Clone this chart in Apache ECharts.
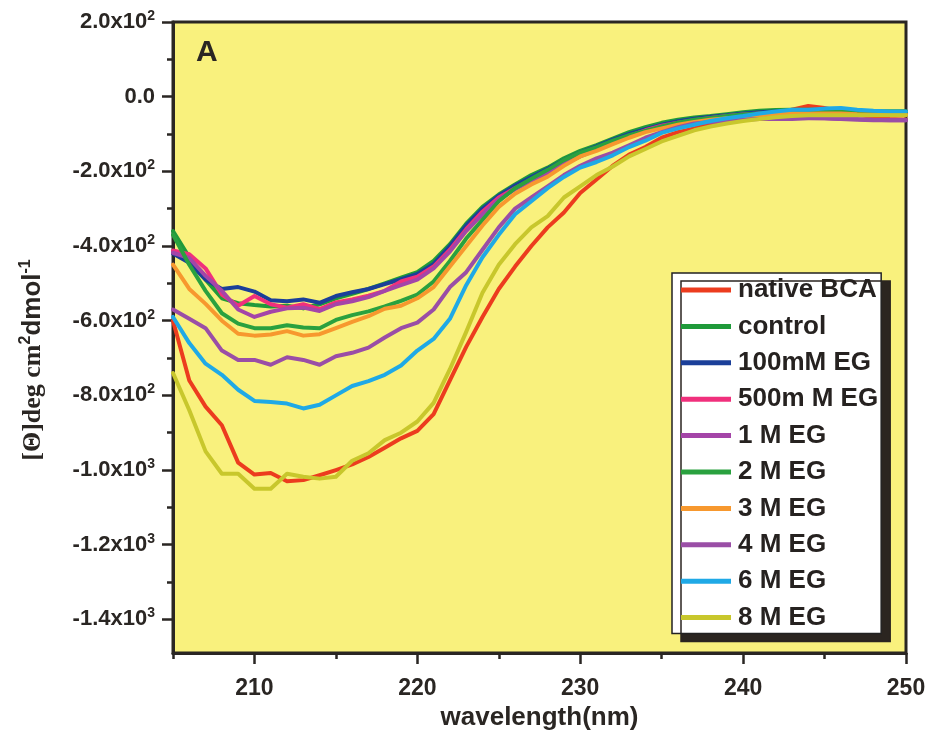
<!DOCTYPE html>
<html>
<head>
<meta charset="utf-8">
<script src="https://cdn.jsdelivr.net/npm/echarts@6/dist/echarts.min.js"></script>
<style>
html,body{margin:0;padding:0;background:#fff;}
#chart{width:930px;height:731px;}
</style>
</head>
<body>
<div id="chart"></div>
<script>
// wavelength (nm)
const wavelengths = [205,206,207,208,209,210,211,212,213,214,215,216,217,218,219,220,221,222,223,224,225,226,227,228,229,230,231,232,233,234,235,236,237,238,239,240,241,242,243,244,245,246,247,248,249,250];

const seriesNames = ['native BCA','control','100mM EG','500m M EG','1 M EG','2 M EG','3 M EG','4 M EG','6 M EG','8 M EG'];

const nativeBCA = [-600,-760,-830,-880,-980,-1012,-1008,-1030,-1027,-1014,-1000,-985,-965,-940,-915,-895,-850,-760,-670,-590,-515,-455,-400,-350,-310,-258,-222,-185,-155,-135,-110,-95,-85,-72,-65,-58,-52,-45,-35,-25,-30,-40,-48,-55,-60,-62];
const control = [-360,-430,-490,-540,-553,-558,-562,-560,-567,-556,-540,-528,-515,-500,-485,-470,-440,-395,-340,-295,-262,-235,-210,-190,-165,-145,-130,-112,-95,-82,-70,-62,-56,-52,-47,-42,-38,-36,-35,-35,-36,-38,-38,-40,-40,-40];
const eg100mM = [-420,-445,-490,-515,-510,-522,-545,-548,-543,-552,-534,-524,-515,-502,-489,-475,-448,-400,-345,-300,-265,-238,-215,-193,-170,-150,-133,-115,-100,-87,-75,-66,-59,-54,-50,-45,-42,-40,-38,-38,-38,-38,-40,-42,-42,-42];
const eg500mM = [-412,-422,-460,-530,-560,-534,-556,-565,-556,-569,-551,-543,-533,-520,-495,-482,-455,-410,-355,-308,-270,-245,-222,-200,-175,-155,-138,-120,-105,-90,-78,-70,-63,-57,-52,-48,-45,-43,-42,-42,-42,-44,-46,-48,-50,-50];
const eg1M = [-418,-432,-480,-520,-570,-590,-576,-567,-565,-574,-556,-548,-537,-520,-505,-490,-460,-415,-360,-315,-275,-248,-225,-205,-180,-160,-142,-125,-108,-93,-82,-72,-66,-60,-58,-56,-55,-55,-55,-57,-58,-60,-60,-62,-63,-63];
const eg2M = [-370,-450,-520,-580,-608,-620,-620,-612,-618,-620,-598,-585,-575,-562,-547,-530,-495,-440,-380,-330,-280,-245,-220,-196,-170,-150,-135,-118,-103,-92,-80,-70,-62,-57,-52,-48,-45,-42,-40,-40,-40,-40,-40,-40,-40,-40];
const eg3M = [-450,-515,-555,-600,-635,-640,-637,-628,-640,-636,-620,-603,-588,-568,-560,-540,-510,-455,-400,-345,-295,-260,-235,-214,-185,-160,-145,-127,-110,-95,-85,-75,-68,-62,-58,-55,-50,-47,-45,-45,-45,-45,-47,-48,-48,-48];
const eg4M = [-570,-595,-620,-680,-705,-705,-718,-698,-705,-718,-695,-686,-672,-645,-620,-605,-570,-510,-470,-410,-350,-300,-270,-240,-210,-185,-165,-150,-130,-110,-95,-82,-72,-68,-65,-62,-60,-60,-60,-58,-58,-60,-62,-63,-63,-63];
const eg6M = [-590,-660,-715,-745,-785,-815,-818,-822,-835,-825,-800,-775,-762,-745,-720,-680,-649,-595,-505,-430,-370,-315,-280,-245,-215,-190,-175,-157,-135,-118,-97,-85,-75,-65,-58,-52,-45,-40,-35,-35,-32,-30,-35,-38,-40,-40];
const eg8M = [-740,-840,-950,-1010,-1010,-1050,-1050,-1010,-1018,-1023,-1018,-975,-955,-920,-900,-870,-820,-730,-630,-525,-450,-395,-350,-320,-270,-240,-210,-187,-160,-140,-120,-105,-90,-80,-72,-65,-60,-55,-52,-50,-50,-50,-50,-50,-50,-50];

const xTickValues = [210,220,230,240,250];
const xMinorTickValues = [205,215,225,235,245];
const xTickLabels = ['210','220','230','240','250'];
const yTickValues = [200,0,-200,-400,-600,-800,-1000,-1200,-1400];
const yMinorTickValues = [100,-100,-300,-500,-700,-900,-1100,-1300];
const yTickLabels = ['2.0x10{s|2}','0.0','-2.0x10{s|2}','-4.0x10{s|2}','-6.0x10{s|2}','-8.0x10{s|2}','-1.0x10{s|3}','-1.2x10{s|3}','-1.4x10{s|3}'];

const seriesData = [nativeBCA, control, eg100mM, eg500mM, eg1M, eg2M, eg3M, eg4M, eg6M, eg8M];
const colors = ['#ec3c1e','#1f9a3a','#1b3f99','#f0307c','#a445a8','#2aa13f','#f7982e','#9a4ea6','#1fa9e6','#c8c72c'];

const FONT = '"Liberation Sans", Arial, sans-serif';
const INK = '#2a2623';

const chart = echarts.init(document.getElementById('chart'), null, {renderer:'canvas'});

const series = seriesNames.map((name, i) => ({
  name: name,
  type: 'line',
  xAxisIndex: 0, yAxisIndex: 0,
  data: wavelengths.map((w, j) => [w, seriesData[i][j]]),
  showSymbol: false,
  smooth: false,
  lineStyle: {width: 4, color: colors[i], cap: 'round', join: 'round'},
  itemStyle: {color: colors[i]},
  z: 3 + i,
  silent: true,
  animation: false
}));

const option = {
  animation: false,
  grid: {
    left: 173, right: 24, top: 22, bottom: 78,
    containLabel: false, outerBoundsMode: 'none',
    show: true, backgroundColor: '#f9f17d', borderColor: INK, borderWidth: 3
  },
  xAxis: [{
    type: 'value', min: 205, max: 250, position: 'bottom',
    axisLine: {show: true, onZero: false, lineStyle: {color: INK, width: 3}},
    axisTick: {show: true, customValues: xTickValues, length: 11, lineStyle: {color: INK, width: 2.5}},
    axisLabel: {
      customValues: xTickValues, margin: 24,
      formatter: v => xTickLabels[xTickValues.indexOf(v)] || '',
      color: INK, fontSize: 23, fontFamily: FONT, fontWeight: 'bold'
    },
    splitLine: {show: false},
    name: 'wavelength(nm)', nameLocation: 'middle', nameGap: 52,
    nameTextStyle: {color: INK, fontSize: 26, fontFamily: FONT, fontWeight: 'bold'}
  }, {
    type: 'value', min: 205, max: 250, position: 'bottom',
    axisLine: {show: false, onZero: false},
    axisTick: {show: true, customValues: xMinorTickValues, length: 6, lineStyle: {color: INK, width: 2.5}},
    axisLabel: {show: false},
    splitLine: {show: false}
  }],
  yAxis: [{
    type: 'value', min: -1490, max: 200, position: 'left',
    axisLine: {show: true, onZero: false, lineStyle: {color: INK, width: 3}},
    axisTick: {show: true, customValues: yTickValues, length: 11, lineStyle: {color: INK, width: 2.5}},
    axisLabel: {
      customValues: yTickValues, margin: 18,
      formatter: v => yTickLabels[yTickValues.indexOf(v)] || '',
      color: INK, fontSize: 22, fontFamily: FONT, fontWeight: 'bold',
      rich: {s: {fontSize: 14, fontFamily: FONT, fontWeight: 'bold', color: INK, padding: [0,0,12,0]}}
    },
    splitLine: {show: false}
  }, {
    type: 'value', min: -1490, max: 200, position: 'left',
    axisLine: {show: false, onZero: false},
    axisTick: {show: true, customValues: yMinorTickValues, length: 6, lineStyle: {color: INK, width: 2.5}},
    axisLabel: {show: false},
    splitLine: {show: false}
  }],
  legend: {
    orient: 'vertical', left: 672, top: 273,
    data: seriesNames,
    icon: 'rect', itemWidth: 50, itemHeight: 5, itemGap: 6.4,
    selectedMode: false,
    textStyle: {fontSize: 26, fontWeight: 'bold', fontFamily: FONT, color: '#262220', lineHeight: 30, padding: [0,0,0,2]},
    backgroundColor: '#ffffff', borderColor: '#222', borderWidth: 1.5,
    padding: [2, 3, 1, 9],
    shadowColor: '#2b2520', shadowOffsetX: 9, shadowOffsetY: 8, shadowBlur: 0
  },
  graphic: [{
    type: 'text', left: 196, top: 38,
    style: {text: 'A', font: 'bold 30px "Liberation Sans", Arial, sans-serif', fill: INK}
  }, {
    type: 'text', x: 33, y: 360, rotation: Math.PI / 2,
    style: {
      text: '{a|[Θ]deg cm}{s|2}{b|dmol}{s|-1}',
      align: 'center', verticalAlign: 'middle',
      rich: {
        a: {fontSize: 26, fontFamily: '"Liberation Serif", "Times New Roman", serif', fontWeight: 'bold', fill: INK, color: INK},
        b: {fontSize: 26, fontFamily: FONT, fontWeight: 'bold', fill: INK, color: INK},
        s: {fontSize: 16, fontFamily: FONT, fontWeight: 'bold', fill: INK, color: INK, padding: [0,0,14,0]}
      }
    }
  }],
  series: series
};
chart.setOption(option);
</script>
</body>
</html>
